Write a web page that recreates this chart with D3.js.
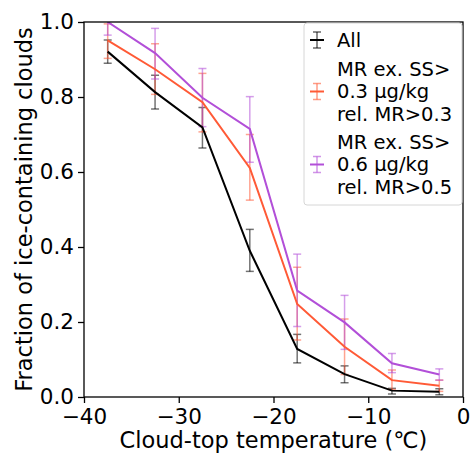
<!DOCTYPE html>
<html>
<head>
<meta charset="utf-8">
<script src="https://cdn.jsdelivr.net/npm/d3@7"></script>
<style>
  body { margin: 0; background: #fff; }
  text { font-family: "DejaVu Sans", sans-serif; }
</style>
</head>
<body>
<svg width="470" height="453"></svg>
<script>
const temps = [-37.5, -32.5, -27.5, -22.5, -17.5, -12.5, -7.5, -2.5];

const allVals = [0.921, 0.813, 0.719, 0.390, 0.128, 0.061, 0.017, 0.014];
const allLo   = [0.890, 0.768, 0.664, 0.335, 0.091, 0.038, 0.008, 0.006];
const allHi   = [0.952, 0.858, 0.772, 0.447, 0.167, 0.083, 0.023, 0.022];

const ss03Vals = [0.951, 0.874, 0.786, 0.611, 0.248, 0.134, 0.045, 0.030];
const ss03Lo   = [0.903, 0.807, 0.707, 0.525, 0.152, 0.060, 0.020, 0.015];
const ss03Hi   = [0.995, 0.942, 0.863, 0.700, 0.346, 0.208, 0.072, 0.045];

const ss06Vals = [1.000, 0.917, 0.798, 0.715, 0.284, 0.199, 0.090, 0.060];
const ss06Lo   = [0.965, 0.848, 0.721, 0.626, 0.188, 0.127, 0.065, 0.045];
const ss06Hi   = [1.030, 0.983, 0.876, 0.801, 0.381, 0.271, 0.116, 0.075];

const xTicks = [-40, -30, -20, -10, 0];
const yTicks = [0, 0.2, 0.4, 0.6, 0.8, 1.0];

const series = [
  {name: ['All'], color: '#000000', vals: allVals, lo: allLo, hi: allHi},
  {name: ['MR ex. SS>', '0.3 µg/kg', 'rel. MR>0.3'], color: '#ff5a36', vals: ss03Vals, lo: ss03Lo, hi: ss03Hi},
  {name: ['MR ex. SS>', '0.6 µg/kg', 'rel. MR>0.5'], color: '#b24fd8', vals: ss06Vals, lo: ss06Lo, hi: ss06Hi}
];

const svg = d3.select('svg');
const margin = {top: 22, right: 7, bottom: 56, left: 84};
const width = +svg.attr('width');
const height = +svg.attr('height');
const innerWidth = width - margin.left - margin.right;
const innerHeight = height - margin.top - margin.bottom;

const xScale = d3.scaleLinear().domain([-40, 0]).range([0, innerWidth]);
const yScale = d3.scaleLinear().domain([0, 1]).range([innerHeight, 0]);

const g = svg.append('g')
  .attr('transform', `translate(${margin.left},${margin.top})`);

svg.append('defs').append('clipPath').attr('id', 'clip')
  .append('rect').attr('width', innerWidth).attr('height', innerHeight);

const fmtX = d => d < 0 ? '\u2212' + Math.abs(d) : '' + d;

const xAxisG = g.append('g')
  .attr('transform', `translate(0,${innerHeight})`)
  .call(d3.axisBottom(xScale).tickValues(xTicks).tickFormat(fmtX).tickSize(6).tickPadding(6));
const yAxisG = g.append('g')
  .call(d3.axisLeft(yScale).tickValues(yTicks).tickFormat(d3.format('.1f')).tickSize(6).tickPadding(4));

[xAxisG, yAxisG].forEach(a => {
  a.select('.domain').remove();
  a.selectAll('.tick line').attr('stroke', '#000').attr('stroke-width', 1.3);
  a.selectAll('.tick text').attr('font-size', 21.5).attr('fill', '#000')
    .style('font-family', '"DejaVu Sans", sans-serif');
});

const plot = g.append('g').attr('clip-path', 'url(#clip)');
const line = d3.line().x((d, i) => xScale(temps[i])).y(d => yScale(d));

series.forEach(s => {
  const eb = plot.append('g').attr('stroke', s.color).attr('stroke-opacity', 0.55).attr('stroke-width', 1.5);
  temps.forEach((t, i) => {
    const x = xScale(t);
    eb.append('line').attr('x1', x).attr('x2', x).attr('y1', yScale(s.lo[i])).attr('y2', yScale(s.hi[i]));
    [s.lo[i], s.hi[i]].forEach(v => {
      eb.append('line').attr('x1', x - 4).attr('x2', x + 4).attr('y1', yScale(v)).attr('y2', yScale(v));
    });
  });
});

series.forEach(s => {
  plot.append('path').datum(s.vals)
    .attr('fill', 'none').attr('stroke', s.color).attr('stroke-width', 2)
    .attr('d', line);
});

g.append('rect')
  .attr('width', innerWidth).attr('height', innerHeight)
  .attr('fill', 'none').attr('stroke', '#000').attr('stroke-width', 1.3);

// legend
const legend = g.append('g').attr('transform', `translate(${304 - margin.left},${23 - margin.top})`);
legend.append('rect')
  .attr('width', 158).attr('height', 182).attr('rx', 3)
  .attr('fill', '#fff').attr('fill-opacity', 0.8)
  .attr('stroke', '#d6d6d6').attr('stroke-width', 1);

const entryY = [[17], [46, 68.5, 91], [119, 141.5, 164]];
series.forEach((s, k) => {
  const ys = entryY[k];
  const cy = ys[Math.floor(ys.length / 2)];
  const mk = legend.append('g').attr('stroke', s.color).attr('stroke-width', 1.5);
  mk.append('line').attr('x1', 13).attr('x2', 13).attr('y1', cy - 8).attr('y2', cy + 8).attr('stroke-opacity', 0.6);
  mk.append('line').attr('x1', 9).attr('x2', 17).attr('y1', cy - 8).attr('y2', cy - 8).attr('stroke-opacity', 0.6);
  mk.append('line').attr('x1', 9).attr('x2', 17).attr('y1', cy + 8).attr('y2', cy + 8).attr('stroke-opacity', 0.6);
  mk.append('line').attr('x1', 6).attr('x2', 20).attr('y1', cy).attr('y2', cy).attr('stroke-width', 2);
  s.name.forEach((t, j) => {
    legend.append('text')
      .attr('x', 33).attr('y', ys[j]).attr('dy', '0.35em')
      .attr('font-size', 19.5).attr('fill', '#000')
      .text(t);
  });
});

g.append('text')
  .attr('x', innerWidth / 2).attr('y', innerHeight + 51)
  .attr('text-anchor', 'middle').attr('font-size', 22.5).attr('fill', '#000')
  .text('Cloud-top temperature (\u2103)');

g.append('text')
  .attr('transform', `translate(${-52},${innerHeight / 2}) rotate(-90)`)
  .attr('text-anchor', 'middle').attr('font-size', 22.5).attr('fill', '#000')
  .text('Fraction of ice-containing clouds');
</script>
</body>
</html>
